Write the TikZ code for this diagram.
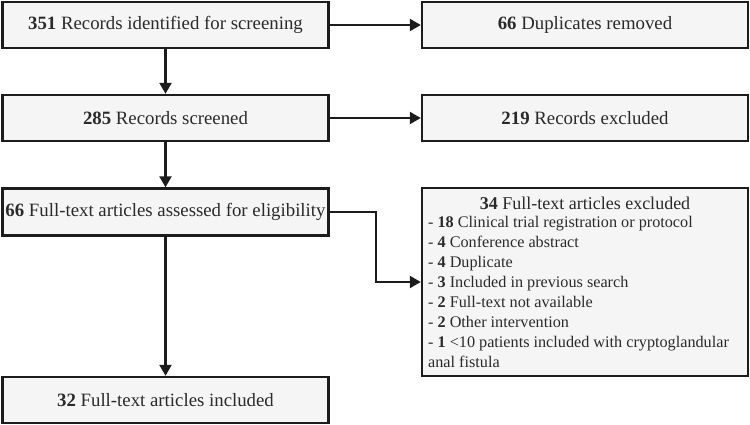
\documentclass[tikz,border=0pt]{standalone}
\usepackage{fontspec}
\setmainfont{Liberation Serif}
\usetikzlibrary{arrows.meta}
\definecolor{boxfill}{HTML}{F5F5F5}
\definecolor{boxline}{HTML}{1C1C1C}
\definecolor{txt}{HTML}{2A2A2A}
\begin{document}
\begin{tikzpicture}[x=1pt,y=-1pt,
  flowbox/.style={draw=boxline, fill=boxfill, line width=2.4pt, minimum width=326pt, minimum height=46pt, inner sep=0pt, text=txt, font=\fontsize{18.8}{22}\selectfont},
  conn/.style={draw=boxline, line width=2.2pt, -{Triangle[length=11pt,width=12pt]}}
]
\useasboundingbox (0,0) rectangle (750,425);
\node[flowbox] (ident) at (165.5,25) {\textbf{351} Records identified for screening};
\node[flowbox] (dup) at (585,25) {\textbf{66} Duplicates removed};
\node[flowbox] (screen) at (165.5,118) {\textbf{285} Records screened};
\node[flowbox] (recex) at (585,118) {\textbf{219} Records excluded};
\node[flowbox, minimum height=47pt] (elig) at (165.5,212) {\textbf{66} Full-text articles assessed for eligibility};
\node[flowbox] (incl) at (165.5,400) {\textbf{32} Full-text articles included};
\node[flowbox, minimum height=188pt] (exc) at (585,282) {};
\node[text=txt, font=\fontsize{18}{21}\selectfont, inner sep=0pt] (exctitle) at (585,203) {\textbf{34} Full-text articles excluded};
\node[text=txt, font=\fontsize{16.2}{20}\selectfont, inner sep=0pt, anchor=north west, align=left] (exclist) at (428,216)
{- \textbf{18} Clinical trial registration or protocol\\
- \textbf{4} Conference abstract\\
- \textbf{4} Duplicate\\
- \textbf{3} Included in previous search\\
- \textbf{2} Full-text not available\\
- \textbf{2} Other intervention\\
- \textbf{1} <10 patients included with cryptoglandular\\
anal fistula};
\coordinate (elbow) at (376,212);
\draw[conn] (ident.south) -- (screen.north);
\draw[conn] (ident.east) -- (dup.west);
\draw[conn] (screen.south) -- (elig.north);
\draw[conn] (screen.east) -- (recex.west);
\draw[conn] (elig.south) -- (incl.north);
\draw[conn] (elig.east) -- (elbow) |- (exc.west);
\end{tikzpicture}
\end{document}
